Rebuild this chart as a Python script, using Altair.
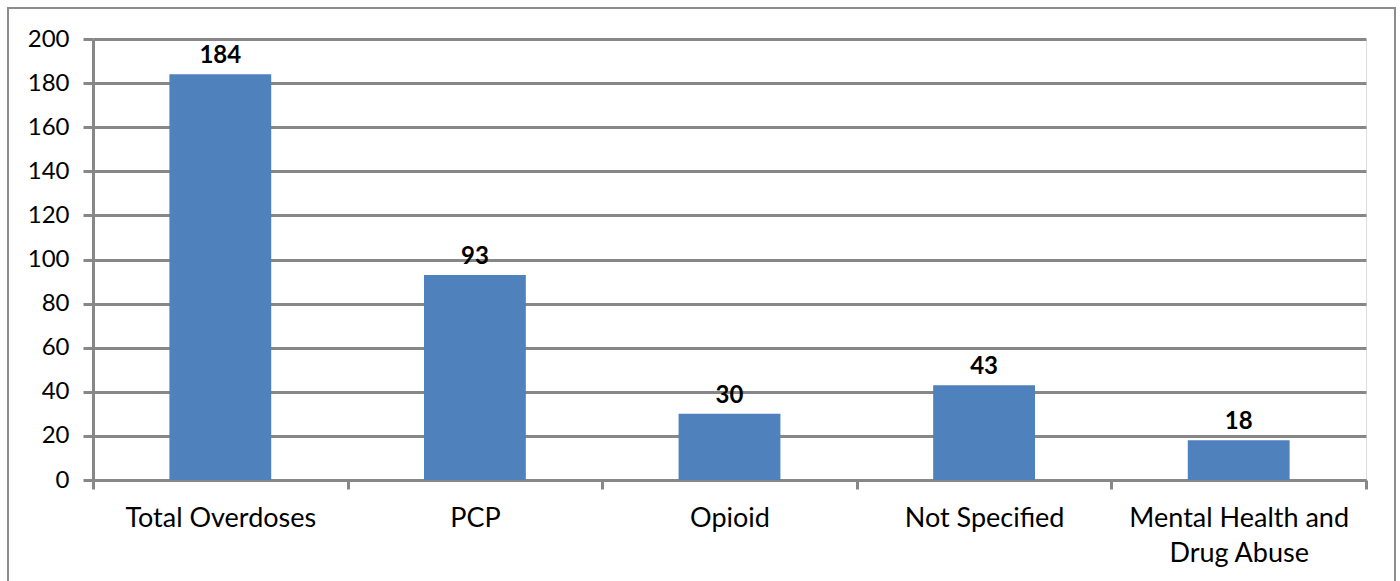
import altair as alt
import pandas as pd

categories = ["Total Overdoses", "PCP", "Opioid", "Not Specified", "Mental Health and|Drug Abuse"]
counts = [184, 93, 30, 43, 18]

df = pd.DataFrame({"category": categories, "count": counts})

W, H = 1273, 441
GRID = "#878787"
FONT = "Lato"

x_enc = alt.X(
    "category:N",
    sort=None,
    title=None,
    scale=alt.Scale(paddingInner=0, paddingOuter=0),
    axis=alt.Axis(
        labelAngle=0,
        labelFont=FONT,
        labelFontSize=27,
        labelColor="#000000",
        labelPadding=16,
        labelLineHeight=35,
        labelLimit=0,
        labelExpr="split(datum.label, '|')",
        tickBand="extent",
        tickColor=GRID,
        tickWidth=3,
        tickSize=9,
        domainColor=GRID,
        domainWidth=3,
        grid=False,
    ),
)

y_enc = alt.Y(
    "count:Q",
    title=None,
    scale=alt.Scale(domain=[0, 200], nice=False),
    axis=alt.Axis(
        values=list(range(0, 201, 20)),
        labelFont=FONT,
        labelFontSize=24,
        labelColor="#000000",
        labelPadding=14,
        tickColor=GRID,
        tickWidth=3,
        tickSize=10,
        domainColor=GRID,
        domainWidth=3,
        gridColor=GRID,
        gridWidth=3,
        gridOpacity=1,
    ),
)

base = alt.Chart(df)

bars = base.mark_bar(color="#4F81BD", width={"band": 0.4}).encode(x=x_enc, y=y_enc)

labels = base.mark_text(
    font=FONT, fontSize=24, fontWeight="bold", color="#000000", dy=-6, baseline="bottom"
).encode(x=alt.X("category:N", sort=None), y=alt.Y("count:Q"), text="count:Q")

# frame around the whole figure
frame = alt.Chart(pd.DataFrame({"k": [0]})).mark_rect(
    fill=None, stroke="#8c8c8c", strokeWidth=2, clip=False
).encode(
    x=alt.value(-85), x2=alt.value(W + 29), y=alt.value(-31), y2=alt.value(H + 120)
)

chart = (
    alt.layer(bars, labels, frame)
    .properties(
        width=W,
        height=H,
        autosize=alt.AutoSizeParams(type="none"),
        padding={"left": 93, "top": 39, "right": 34, "bottom": 101},
    )
    .configure_view(fill="#EBEBEB", stroke=None)
    .configure(background="#FFFFFF")
)

chart.save("out.html", embed_options={"renderer": "svg", "actions": False})
